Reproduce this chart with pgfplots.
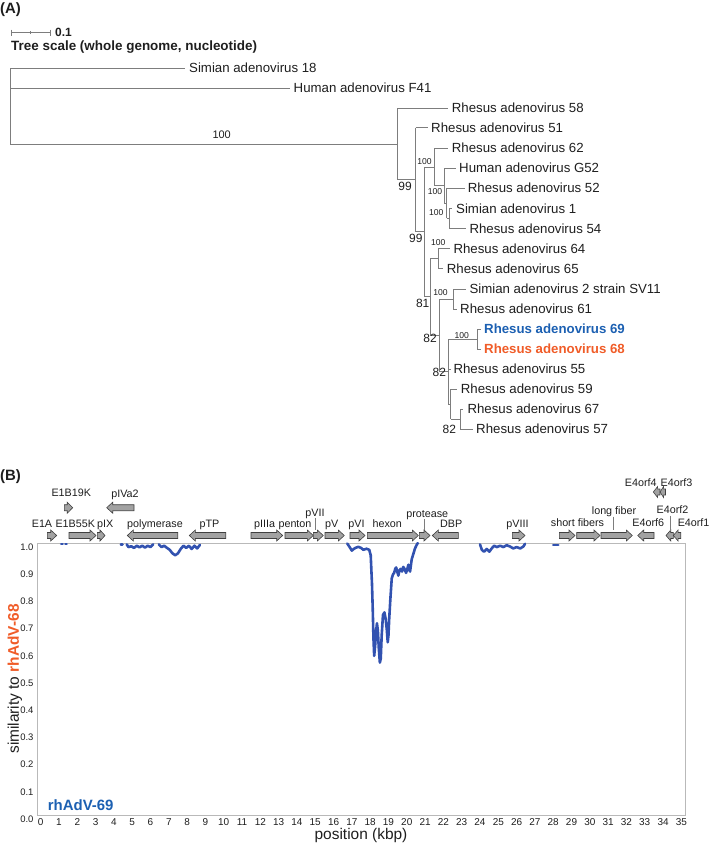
\documentclass[border=0pt]{standalone}
\usepackage{pgfplots}
\pgfplotsset{compat=1.18}
\usepackage{fontspec}
\setmainfont{Liberation Sans}
\definecolor{treec}{RGB}{125,125,125}
\definecolor{c69}{RGB}{28,96,178}
\definecolor{c68}{RGB}{240,92,40}
\definecolor{curvec}{RGB}{50,82,176}
\definecolor{genef}{RGB}{162,162,162}
\definecolor{gened}{RGB}{64,64,64}
\definecolor{framec}{RGB}{185,185,185}
\definecolor{txt}{RGB}{30,30,30}
\newcommand{\fs}[1]{\fontsize{#1}{#1}\selectfont}
\tikzset{treeline/.style={draw=treec, line width=0.9bp, mark=none},
  leader/.style={draw=treec, line width=0.7bp, mark=none},
  genestyle/.style={fill=genef, draw=gened, line width=0.6bp, mark=none},
  simline/.style={draw=curvec, line width=2.6bp, mark=none, line join=round, line cap=round}}
% horizontal branch: from x #1 to x #3 at y #2
\newcommand{\hb}[3]{\addplot[treeline] coordinates {(#1,#2) (#3,#2)};}
% vertical branch: at x #1 from y #2 to y #3
\newcommand{\vb}[3]{\addplot[treeline] coordinates {(#1,#2) (#1,#3)};}
\newcommand{\ld}[3]{\addplot[leader] coordinates {(#1,#2) (#1,#3)};}
% right-pointing gene arrow from #1 to #2 at centre y #3
\newcommand{\gR}[3]{%
  \pgfmathsetmacro\gya{#3-3}\pgfmathsetmacro\gyb{#3+3}%
  \pgfmathsetmacro\gyc{#3-5.5}\pgfmathsetmacro\gyd{#3+5.5}%
  \pgfmathsetmacro\gxe{#2-min(6,0.65*(#2-#1))}%
  \addplot[genestyle] coordinates {(#1,\gya) (\gxe,\gya) (\gxe,\gyc) (#2,#3) (\gxe,\gyd) (\gxe,\gyb) (#1,\gyb)} --cycle;}
% left-pointing gene arrow, head at #1
\newcommand{\gL}[3]{%
  \pgfmathsetmacro\gya{#3-3}\pgfmathsetmacro\gyb{#3+3}%
  \pgfmathsetmacro\gyc{#3-5.5}\pgfmathsetmacro\gyd{#3+5.5}%
  \pgfmathsetmacro\gxe{#1+min(6,0.65*(#2-#1))}%
  \addplot[genestyle] coordinates {(#2,\gya) (\gxe,\gya) (\gxe,\gyc) (#1,#3) (\gxe,\gyd) (\gxe,\gyb) (#2,\gyb)} --cycle;}
% text: x, baseline y, size, text
\newcommand{\tb}[4]{\node[anchor=base, inner sep=0pt, text=txt, font=\fs{#3}] at (axis cs:#1,#2) {#4};}
\newcommand{\tw}[4]{\node[anchor=base west, inner sep=0pt, text=txt, font=\fs{#3}] at (axis cs:#1,#2) {#4};}
\begin{document}
\begin{tikzpicture}
\useasboundingbox (0,0) rectangle (709bp,851bp);
% ---------------- pixel-space axis: tree (A) and gene map ----------------
\begin{axis}[at={(0,0)}, anchor=south west, scale only axis,
  width=709bp, height=851bp, xmin=0, xmax=709, ymin=0, ymax=851,
  y dir=reverse, hide axis, clip=false]
% panel letters and tree scale
\tw{0}{13.5}{15}{\bfseries (A)}
\tw{0}{480}{15}{\bfseries (B)}
\hb{11.7}{32.7}{50}
\vb{11.7}{29.7}{35.7}
\vb{50}{29.7}{35.7}
\vb{30.8}{31.4}{34}
\tw{55}{37}{12}{\bfseries 0.1}
\tw{11}{50.5}{13.5}{\bfseries Tree scale (whole genome, nucleotide)}
% tree branches
\vb{10}{68.3}{144} \hb{10}{68.3}{185} \hb{10}{88.3}{290} \hb{10}{144}{397.5}
\vb{397.5}{108.3}{179.8} \hb{397.5}{108.3}{448.3} \hb{397.5}{179.8}{415.7}
\vb{415.7}{127.7}{231.8} \hb{415.7}{127.7}{428.3} \hb{415.7}{231.8}{424.3}
\vb{424.3}{167}{296.7} \hb{424.3}{167}{434} \hb{424.3}{296.7}{430}
\vb{434}{148.3}{185.8} \hb{434}{148.3}{448.3} \hb{434}{185.8}{444.3}
\vb{444.3}{168.3}{203.3} \hb{444.3}{168.3}{456} \hb{444.3}{203.3}{446.7}
\vb{446.7}{188.3}{218.3} \hb{446.7}{188.3}{465} \hb{446.7}{218.3}{449}
\vb{449}{208.3}{228.3} \hb{449}{208.3}{451.7} \hb{449}{228.3}{466}
\vb{430}{258.3}{335} \hb{430}{258.3}{438.3} \hb{430}{335}{439.3}
\vb{438.3}{248.3}{268.3} \hb{438.3}{248.3}{450} \hb{438.3}{268.3}{443.3}
\vb{439.3}{299}{371.5} \hb{439.3}{299}{453.3} \hb{439.3}{371.5}{448.3}
\vb{453.3}{289}{309} \hb{453.3}{289}{466} \hb{453.3}{309}{456.7}
\vb{448.3}{339}{404} \hb{448.3}{339}{477.3} \hb{448.3}{369}{450.7} \hb{448.3}{404}{450.7}
\vb{477.3}{329}{349} \hb{477.3}{329}{480.7} \hb{477.3}{349}{480.7}
\vb{450.7}{389}{419} \hb{450.7}{389}{457.3} \hb{450.7}{419}{460}
\vb{460}{409}{429} \hb{460}{409}{463.3} \hb{460}{429}{472.7}
% leaf labels
\tw{189}{73}{13.3}{Simian adenovirus 18}
\tw{293.5}{93}{13.3}{Human adenovirus F41}
\tw{451.7}{113}{13.3}{Rhesus adenovirus 58}
\tw{431}{132.4}{13.3}{Rhesus adenovirus 51}
\tw{451.7}{153}{13.3}{Rhesus adenovirus 62}
\tw{459}{173}{13.3}{Human adenovirus G52}
\tw{467.7}{193}{13.3}{Rhesus adenovirus 52}
\tw{456}{213}{13.3}{Simian adenovirus 1}
\tw{469.3}{233}{13.3}{Rhesus adenovirus 54}
\tw{453.3}{253}{13.3}{Rhesus adenovirus 64}
\tw{446.7}{273}{13.3}{Rhesus adenovirus 65}
\tw{469.3}{293.7}{13.3}{Simian adenovirus 2 strain SV11}
\tw{460}{313.7}{13.3}{Rhesus adenovirus 61}
\tw{484}{333.7}{13.3}{\bfseries\color{c69}Rhesus adenovirus 69}
\tw{484}{353.7}{13.3}{\bfseries\color{c68}Rhesus adenovirus 68}
\tw{453.3}{373.7}{13.3}{Rhesus adenovirus 55}
\tw{460.7}{393.7}{13.3}{Rhesus adenovirus 59}
\tw{467.3}{413.7}{13.3}{Rhesus adenovirus 67}
\tw{476}{433.7}{13.3}{Rhesus adenovirus 57}
% bootstrap values
\tb{221.7}{138.3}{11}{100}
\tb{405}{191}{12}{99}
\tb{415.8}{242.6}{12}{99}
\tb{424.5}{164.8}{8.6}{100}
\tb{435}{194.8}{8.6}{100}
\tb{436.3}{215.8}{8.6}{100}
\tb{438.3}{245.8}{8.6}{100}
\tb{422.7}{307.6}{12}{81}
\tb{440.5}{295.8}{8.6}{100}
\tb{430}{342}{12}{82}
\tb{461.7}{338.1}{8.6}{100}
\tb{439.3}{376.6}{12}{82}
\tb{449.3}{433.8}{12}{82}
% ---------------- gene map ----------------
\gR{47.3}{56.7}{535.5}
\gR{69}{96}{535.5}
\gR{97.3}{105}{535.5}
\gL{127.3}{177.7}{535.5}
\gL{189.3}{225.7}{535.5}
\gR{251}{282.7}{535.5}
\gR{285}{313.3}{535.5}
\gR{313.3}{323.3}{535.5}
\gR{325}{344.3}{535.5}
\gR{350}{365}{535.5}
\gR{367.3}{418.3}{535.5}
\gR{419.3}{430}{535.5}
\gL{432.3}{458.3}{535.5}
\gR{512.3}{525}{535.5}
\gR{559.3}{575}{535.5}
\gR{576.7}{600}{535.5}
\gR{601}{632.3}{535.5}
\gL{637.7}{654}{535.5}
\gL{666}{673.3}{535.5}
\gL{673.3}{680.7}{535.5}
\gR{64.3}{72.7}{507.7}
\gL{106.7}{134}{507.7}
\gL{653.3}{660}{492}
\gL{660}{665.5}{492}
\ld{315}{518}{530}
\ld{424.3}{519}{530}
\ld{613.3}{516.5}{530}
\ld{670.7}{515.5}{530.5}
\tb{42}{527.3}{10.8}{E1A}
\tb{75.3}{527.3}{10.8}{E1B55K}
\tb{105.3}{527.3}{10.8}{pIX}
\tb{155}{527.3}{10.8}{polymerase}
\tb{209.5}{527.3}{10.8}{pTP}
\tb{264.7}{527.3}{10.8}{pIIIa}
\tb{295}{527.3}{10.8}{penton}
\tb{315}{516.3}{10.8}{pVII}
\tb{331.7}{527.3}{10.8}{pV}
\tb{356.5}{527.3}{10.8}{pVI}
\tb{387.3}{527.3}{10.8}{hexon}
\tb{427.2}{517.3}{10.8}{protease}
\tb{451.2}{527.3}{10.8}{DBP}
\tb{517.5}{527.3}{10.8}{pVIII}
\tb{577.5}{526}{10.8}{short fibers}
\tb{614}{514.8}{10.8}{long fiber}
\tb{648.3}{526}{10.8}{E4orf6}
\tb{672.5}{513.5}{10.8}{E4orf2}
\tb{693.6}{526}{10.8}{E4orf1}
\tb{640.8}{486}{10.8}{E4orf4}
\tb{676.5}{486}{10.8}{E4orf3}
\tb{71.3}{496.8}{10.8}{E1B19K}
\tb{125}{497}{10.8}{pIVa2}
\node[anchor=base, inner sep=0pt, font=\fs{15}\bfseries, text=c69] at (axis cs:80.7,810.7) {rhAdV-69};
\end{axis}
% ---------------- similarity plot (B) ----------------
\begin{axis}[at={(37bp,36bp)}, anchor=south west, scale only axis,
  width=648bp, height=272bp,
  xmin=-0.2, xmax=35.2, ymin=0, ymax=1,
  axis line style={draw=framec, line width=0.8bp},
  major tick length=0pt, tick style={draw=none},
  xtick={0,1,...,35},
  ytick={0,0.1,0.2,0.3,0.4,0.5,0.6,0.7,0.8,0.9,1},
  yticklabels={0.0,0.1,0.2,0.3,0.4,0.5,0.6,0.7,0.8,0.9,1.0},
  /pgf/number format/assume math mode=true,
  xticklabel style={font=\fs{10}, text=txt},
  yticklabel style={font=\fs{9.5}, text=txt, yshift=-4bp},
  xlabel={position (kbp)},
  ylabel={similarity to \textcolor{c68}{\bfseries rhAdV-68}},
  xlabel style={at={(axis description cs:0.5,-0.077)}, anchor=center, font=\fs{15.5}, text=txt},
  ylabel style={at={(axis description cs:-0.034,0.5)}, anchor=center, font=\fs{15.5}, text=txt}]
\addplot[simline] coordinates {(1.12,0.996) (1.2,0.996)};
\addplot[simline] coordinates {(1.35,0.996) (1.42,0.996)};
\addplot[simline] coordinates {(4.38,0.995) (4.47,0.995)};
\addplot[simline] coordinates {(4.7,0.995) (4.8,0.985) (4.95,0.988) (5.1,0.982) (5.25,0.99) (5.4,0.984) (5.55,0.99) (5.7,0.983) (5.85,0.99) (6.0,0.985) (6.15,0.995)};
\addplot[simline] coordinates {(6.45,0.995) (6.6,0.985) (6.75,0.99) (6.9,0.982) (7.05,0.975) (7.2,0.962) (7.35,0.955) (7.5,0.962) (7.65,0.978) (7.8,0.99) (7.95,0.982) (8.1,0.99) (8.25,0.978) (8.4,0.99) (8.55,0.98) (8.7,0.993)};
\addplot[simline] coordinates {(16.75,0.998) (16.85,0.988) (17.0,0.972) (17.1,0.978) (17.2,0.982) (17.35,0.986) (17.5,0.982) (17.63,0.975) (17.8,0.979) (17.95,0.975) (18.03,0.955) (18.1,0.85) (18.14,0.76) (18.18,0.65) (18.22,0.585) (18.27,0.62) (18.32,0.67) (18.37,0.705) (18.42,0.68) (18.47,0.615) (18.53,0.56) (18.58,0.575) (18.63,0.66) (18.7,0.735) (18.78,0.745) (18.85,0.72) (18.91,0.68) (18.96,0.635) (19.0,0.66) (19.04,0.72) (19.1,0.79) (19.18,0.87) (19.25,0.885) (19.31,0.89) (19.37,0.905) (19.42,0.91) (19.48,0.895) (19.54,0.88) (19.6,0.9) (19.67,0.905) (19.74,0.895) (19.81,0.912) (19.88,0.905) (19.96,0.89) (20.03,0.905) (20.09,0.92) (20.14,0.9) (20.18,0.895) (20.23,0.92) (20.27,0.94) (20.36,0.96) (20.45,0.98) (20.52,0.99) (20.6,1.0)};
\addplot[simline] coordinates {(24.0,0.995) (24.1,0.975) (24.22,0.968) (24.37,0.978) (24.51,0.968) (24.64,0.98) (24.77,0.99) (24.92,0.985) (25.1,0.99) (25.28,0.985) (25.46,0.992) (25.64,0.987) (25.82,0.98) (26.0,0.985) (26.2,0.98) (26.37,0.987) (26.46,0.997)};
\addplot[simline] coordinates {(28.0,0.993) (28.28,0.993)};
\end{axis}
\end{tikzpicture}
\end{document}
